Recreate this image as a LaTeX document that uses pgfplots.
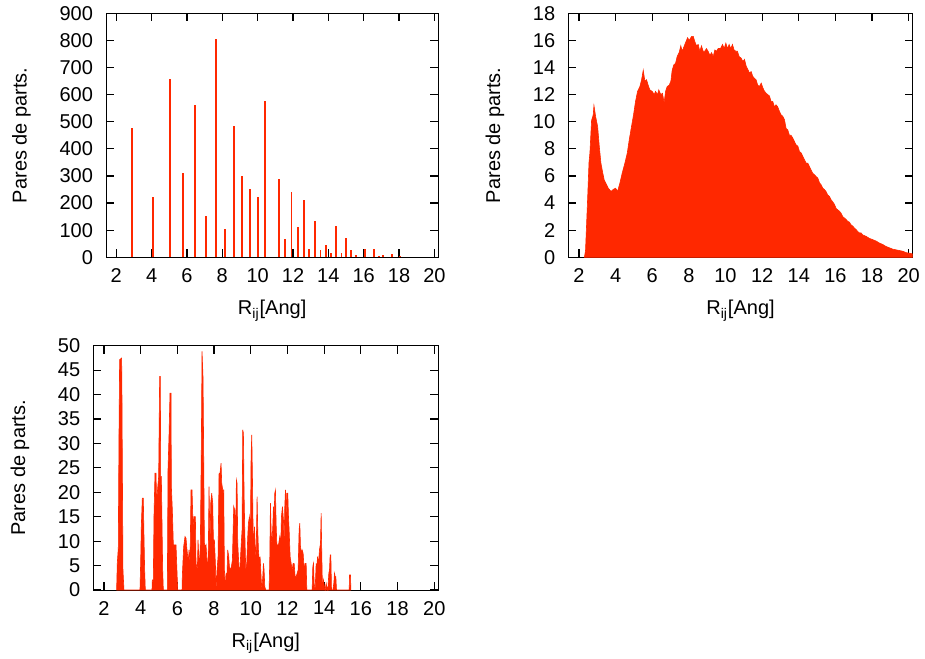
\documentclass[border=0pt]{standalone}
\usepackage{fontspec}
\setmainfont{Liberation Sans}
\usepackage{pgfplots}
\pgfplotsset{compat=1.18}
\definecolor{gpred}{RGB}{255,40,0}
\pgfplotsset{
  gp/.style={
    scale only axis,
    xmin=1.42, xmax=20.22, ymin=0,
    xtick={2,4,...,20},
    tick align=inside,
    major tick length=4pt,
    every tick/.style={black, line width=0.6pt},
    axis line style={black, line width=0.5pt},
    /pgf/number format/assume math mode=true,
    tick label style={font=\fontsize{10}{12}\selectfont},
    label style={font=\fontsize{10}{12}\selectfont},
    yticklabel style={xshift=-3pt},
    xticklabel style={yshift=-2pt},
    xlabel={R\textsubscript{ij}[Ang]},
    ylabel={Pares de parts.},
    xlabel style={yshift=-2pt},
    ylabel style={yshift=7.5pt},
    axis on top=false,
  }
}
\begin{document}
\begin{tikzpicture}
\path[use as bounding box] (0pt,0pt) rectangle (462.5pt,329pt);

% Plot 1
\begin{axis}[gp, at={(53pt,200.35pt)}, anchor=south west,
  width=166.15pt, height=122pt, ymax=900, ytick={0,100,...,900}]
\addplot[ycomb, draw=gpred, line width=0.9pt, mark=none] coordinates {
(2.89,478) (4.09,222) (5.02,658) (5.77,311) (6.47,562) (7.08,151) (7.66,807)
(8.17,103) (8.66,483) (9.13,300) (9.58,251) (10.02,222) (10.43,578) (11.21,289)
(11.55,68) (11.92,240) (12.28,112) (12.60,211) (12.92,32) (13.26,134) (13.55,27)
(13.85,44) (14.15,16) (14.45,116) (14.74,16) (15.02,71) (15.28,27) (15.57,9)
(16.09,32) (16.58,30) (16.87,6) (17.09,10) (17.58,12) (18.04,3)
};
\end{axis}

% Plot 2
\begin{axis}[gp, at={(284.15pt,200.35pt)}, anchor=south west,
  width=172.2pt, height=122pt, ymax=18, ytick={0,2,...,18}]
\addplot[fill=gpred, draw=gpred, line width=0.3pt, mark=none] coordinates {
(2.30,0) (2.36,0.5) (2.42,2.5) (2.48,4.5) (2.55,7.0) (2.60,7.7) (2.69,10.1)
(2.78,10.5) (2.82,11.2) (2.91,10.4) (3.02,9.65) (3.11,8.2) (3.20,6.95) (3.29,6.3)
(3.38,5.7) (3.51,5.35) (3.60,5.1) (3.75,4.86) (3.87,5.0) (4.00,5.1) (4.11,4.86)
(4.24,5.5) (4.36,6.2) (4.51,6.95) (4.64,7.7) (4.75,8.7) (4.87,9.65) (4.98,10.5)
(5.09,11.5) (5.20,12.24) (5.33,12.6) (5.42,13.1) (5.51,13.8) (5.60,13.0)
(5.69,13.1) (5.78,12.7) (5.87,12.35) (6.00,12.24) (6.11,12.0) (6.18,12.24)
(6.29,12.0) (6.36,12.35) (6.47,12.0) (6.56,12.1) (6.65,11.4) (6.73,12.24)
(6.82,12.6) (6.93,12.7) (7.02,13.0) (7.09,13.8) (7.18,14.2) (7.27,14.3)
(7.36,14.8) (7.47,15.1) (7.56,15.6) (7.64,15.2) (7.75,15.6) (7.84,15.9)
(7.93,16.2) (8.02,16.0) (8.15,16.3) (8.24,16.3) (8.33,15.9) (8.42,15.6)
(8.51,15.7) (8.60,15.2) (8.69,15.6) (8.78,15.2) (8.87,15.2) (8.96,15.4)
(9.05,15.2) (9.15,14.9) (9.24,15.1) (9.33,14.8) (9.42,15.3) (9.51,15.2)
(9.60,15.4) (9.73,15.4) (9.84,15.7) (9.93,15.4) (10.02,15.8) (10.11,15.4)
(10.20,15.7) (10.29,15.4) (10.38,15.7) (10.47,15.3) (10.56,15.2) (10.65,15.2)
(10.75,14.8) (10.85,14.7) (10.95,14.45) (11.04,14.6) (11.13,14.1) (11.22,13.85)
(11.31,13.6) (11.40,13.7) (11.49,13.35) (11.58,13.2) (11.67,13.1) (11.76,12.7)
(11.85,12.6) (11.95,12.85) (12.04,12.5) (12.13,12.25) (12.22,12.1) (12.31,12.0)
(12.40,11.9) (12.49,11.5) (12.58,11.5) (12.67,11.1) (12.76,11.25) (12.85,11.1)
(12.95,10.75) (13.04,10.5) (13.13,10.4) (13.22,10.15) (13.31,9.5) (13.40,9.4)
(13.49,9.0) (13.58,9.0) (13.67,8.8) (13.76,8.55) (13.85,8.3) (13.95,8.2)
(14.04,7.8) (14.13,7.7) (14.22,7.45) (14.31,7.2) (14.40,6.95) (14.49,6.95)
(14.58,6.7) (14.67,6.45) (14.76,6.2) (14.85,6.1) (14.95,5.95) (15.04,5.85)
(15.13,5.5) (15.22,5.35) (15.31,5.1) (15.40,5.0) (15.49,4.85) (15.58,4.6)
(15.67,4.5) (15.76,4.25) (15.85,4.1) (15.95,3.9) (16.04,3.6) (16.13,3.5)
(16.22,3.4) (16.31,3.25) (16.40,3.0) (16.49,2.9) (16.58,2.8) (16.67,2.65)
(16.76,2.6) (16.85,2.4) (16.95,2.3) (17.04,2.15) (17.13,2.05) (17.22,1.9)
(17.31,1.8) (17.40,1.8) (17.49,1.65) (17.67,1.55) (17.85,1.4) (18.04,1.3)
(18.22,1.2) (18.40,1.05) (18.58,0.95) (18.76,0.8) (18.95,0.7) (19.13,0.6)
(19.31,0.55) (19.49,0.5) (19.67,0.45) (19.85,0.35) (20.04,0.3) (20.22,0.25)
} \closedcycle;
\end{axis}

% Plot 3
\begin{axis}[gp, at={(46.65pt,34pt)}, anchor=south west,
  width=172.5pt, height=122.15pt, ymax=50, ytick={0,5,...,50}]
\addplot[fill=gpred, draw=gpred, line width=0.3pt, mark=none] coordinates {
(2.691,0) (2.727,5.46) (2.782,8.54) (2.818,30.74) (2.855,47.13) (2.964,47.47)
(2.982,39.62) (3.000,27.32) (3.036,4.10) (3.091,0)
(3.964,0) (4.000,5.46) (4.036,12.98) (4.091,18.78) (4.145,18.78) (4.182,10.93)
(4.218,4.10) (4.255,0)
(4.618,0) (4.636,2.05) (4.691,2.05) (4.727,15.03) (4.782,23.91) (4.836,23.91)
(4.873,17.76) (4.927,20.83) (4.982,23.22) (5.036,43.72) (5.073,43.72) (5.091,23.22)
(5.127,23.22) (5.164,13.66) (5.200,4.10) (5.236,0)
(5.455,0) (5.491,24.59) (5.545,31.42) (5.600,40.30) (5.655,40.30) (5.673,21.17)
(5.727,16.39) (5.782,9.22) (5.927,9.22) (5.964,5.46) (6.018,0)
(6.255,0) (6.273,3.07) (6.345,8.88) (6.418,10.93) (6.473,10.59) (6.509,8.88)
(6.564,6.83) (6.600,5.46) (6.636,8.20) (6.691,5.46) (6.745,20.49) (6.800,20.49)
(6.855,12.98) (6.909,15.03) (6.982,15.03) (7.018,5.46) (7.091,4.10) (7.127,10.25)
(7.200,4.10) (7.255,9.90) (7.309,30.05) (7.345,48.84) (7.400,43.37) (7.436,27.32)
(7.473,9.56) (7.527,8.88) (7.564,9.22) (7.618,5.46) (7.655,4.10) (7.691,8.88)
(7.727,21.17) (7.782,8.88) (7.818,17.76) (7.873,19.81) (7.927,17.76) (7.964,10.25)
(8.018,10.25) (8.073,5.46) (8.109,0) (8.164,4.10) (8.218,6.83) (8.273,23.91)
(8.327,23.91) (8.382,25.96) (8.418,21.86) (8.473,20.49) (8.527,20.49) (8.564,4.10)
(8.618,0)
(8.655,3.42) (8.709,3.42) (8.745,8.20) (8.800,6.83) (8.836,4.78) (8.891,4.10)
(8.945,4.78) (9.000,6.15) (9.036,11.61) (9.073,17.08) (9.127,16.39) (9.182,11.61)
(9.218,22.54) (9.255,21.86) (9.291,9.56) (9.364,4.10) (9.418,4.78) (9.473,8.88)
(9.527,12.30) (9.564,32.79) (9.600,32.10) (9.636,19.81) (9.673,12.30) (9.727,4.10)
(9.782,5.46) (9.836,10.93) (9.873,13.66) (9.927,15.03) (9.982,11.61) (10.018,27.32)
(10.055,31.76) (10.091,23.22) (10.127,12.30) (10.164,8.20) (10.200,12.98)
(10.255,8.20) (10.291,6.15) (10.345,19.13) (10.382,12.30) (10.418,8.20)
(10.473,5.46) (10.509,6.83) (10.545,4.10) (10.600,0)
(10.655,2.73) (10.691,5.46) (10.727,4.10) (10.764,0.68) (10.818,0) (11.000,0)
(11.036,6.15) (11.073,17.76) (11.109,12.30) (11.145,8.88) (11.200,12.98)
(11.236,17.08) (11.273,15.03) (11.309,19.81) (11.345,20.49) (11.382,13.66)
(11.418,9.56) (11.473,8.88) (11.527,9.56) (11.582,10.93) (11.636,9.56)
(11.673,15.03) (11.727,17.08) (11.782,14.34) (11.818,9.56) (11.855,17.08)
(11.891,20.49) (11.927,15.03) (11.964,19.81) (12.018,19.81) (12.055,15.03)
(12.091,12.30) (12.145,6.83) (12.200,5.46) (12.255,4.10) (12.309,5.46)
(12.364,5.46) (12.418,2.73) (12.473,2.73) (12.527,3.42) (12.582,4.10)
(12.636,12.30) (12.673,13.66) (12.709,8.88) (12.764,7.51) (12.800,8.20)
(12.855,7.51) (12.909,4.10) (12.964,5.46) (13.018,5.46) (13.055,0)
(13.345,0) (13.382,4.78) (13.418,5.46) (13.455,1.37) (13.509,0) (13.564,5.46)
(13.600,4.10) (13.636,6.83) (13.691,5.46) (13.745,8.20) (13.800,9.56)
(13.836,15.71) (13.873,6.83) (13.909,0) (13.964,2.05) (14.018,0.68) (14.055,0)
(14.109,1.37) (14.145,0.68) (14.200,0) (14.255,3.42) (14.291,4.10) (14.327,7.17)
(14.364,7.17) (14.400,0) (14.473,0) (14.527,1.37) (14.564,3.42) (14.600,2.73)
(14.636,2.73) (14.673,0)
(15.364,0) (15.382,3.07) (15.436,3.07) (15.455,0)
} \closedcycle;
\end{axis}
\end{tikzpicture}
\end{document}
